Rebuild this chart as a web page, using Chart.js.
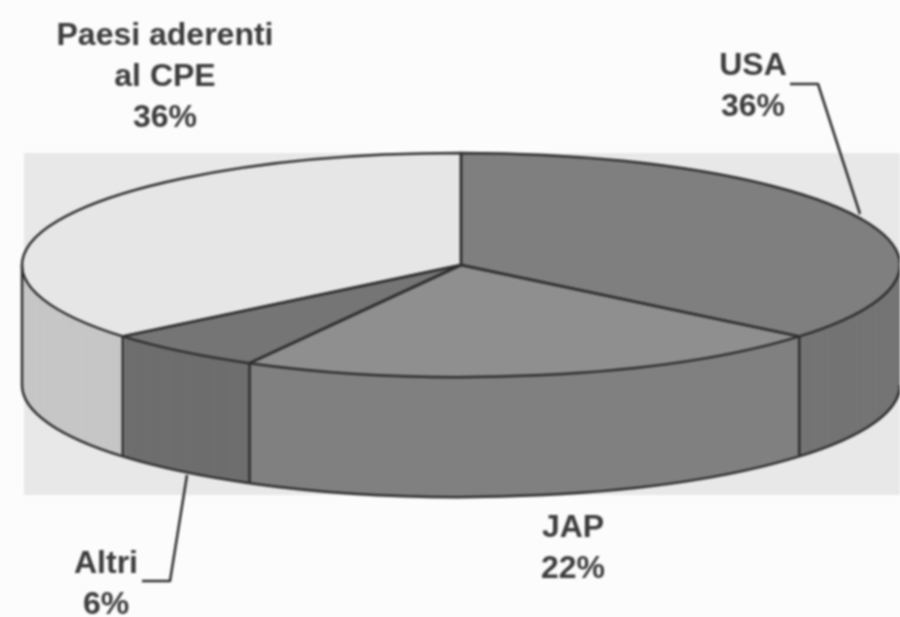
<!DOCTYPE html>
<html>
<head>
<meta charset="utf-8">
<style>
body { margin: 0; background: #fcfcfc; }
canvas { display: block; filter: blur(0.8px); }
</style>
<script src="https://cdn.jsdelivr.net/npm/chart.js@4"></script>
</head>
<body>
<canvas id="myChart" width="900" height="617"></canvas>
<script>
var categories = ['USA', 'JAP', 'Altri', 'Paesi aderenti al CPE'];
var shares = [36, 22, 6, 36];
var topColors = ['#7f7f7f', '#8f8f8f', '#757575', '#e6e6e6'];
var sideColors = ['#747474', '#808080', '#6e6e6e', '#c6c6c6'];

var RX = 439, RY = 112, DEPTH = 120;
var LINE = '#2e2e2e';

// squashes the round pie into the flat ellipse, dy moves it down for the wall
function squash(ctx, chart, arc, dy) {
    var a = chart.chartArea;
    ctx.translate(a.left + RX, a.top + RY + dy);
    ctx.scale(RX / arc.outerRadius, RY / arc.outerRadius);
    ctx.translate(-arc.x, -arc.y);
}

function slicePath(ctx, chart, arc, dy) {
    ctx.save();
    squash(ctx, chart, arc, dy);
    ctx.beginPath();
    ctx.moveTo(arc.x, arc.y);
    ctx.arc(arc.x, arc.y, arc.outerRadius, arc.startAngle, arc.endAngle);
    ctx.closePath();
    ctx.restore();
}

function rimPoint(chart, arc, angle, dy) {
    var a = chart.chartArea;
    return {
        x: a.left + RX + Math.cos(angle) * RX,
        y: a.top + RY + dy + Math.sin(angle) * RY
    };
}

function bandPattern(ctx) {
    var c = document.createElement('canvas');
    c.width = c.height = 4;
    var p = c.getContext('2d');
    p.fillStyle = '#eeeeee';
    p.fillRect(0, 0, 4, 4);
    p.fillStyle = '#e2e2e2';
    p.fillRect(0, 0, 2, 2);
    p.fillRect(2, 2, 2, 2);
    return ctx.createPattern(c, 'repeat');
}

var pie3d = {
    id: 'pie3d',
    beforeDatasetsDraw: function (chart) {
        var ctx = chart.ctx, a = chart.chartArea;
        var arcs = chart.getDatasetMeta(0).data;
        ctx.fillStyle = bandPattern(ctx);
        ctx.fillRect(a.left + 2, a.top, a.right - a.left - 2, a.bottom - a.top - 2);
        // wall: the slices stacked from the bottom up
        for (var d = DEPTH; d > 0; d--) {
            arcs.forEach(function (arc, i) {
                slicePath(ctx, chart, arc, d);
                ctx.fillStyle = sideColors[i];
                ctx.fill();
            });
        }
    },
    beforeDatasetDraw: function (chart) {
        var arc = chart.getDatasetMeta(0).data[0];
        chart.ctx.save();
        squash(chart.ctx, chart, arc, 0);
    },
    afterDatasetDraw: function (chart) {
        chart.ctx.restore();
    },
    afterDatasetsDraw: function (chart) {
        var ctx = chart.ctx;
        var arcs = chart.getDatasetMeta(0).data;
        ctx.strokeStyle = LINE;
        ctx.lineWidth = 2.5;
        ctx.lineJoin = 'round';
        // outlines of the top and of the wall bottom
        arcs.forEach(function (arc) {
            slicePath(ctx, chart, arc, 0);
            ctx.stroke();
            ctx.save();
            squash(ctx, chart, arc, DEPTH);
            ctx.beginPath();
            ctx.arc(arc.x, arc.y, arc.outerRadius,
                Math.max(arc.startAngle, 0), Math.min(arc.endAngle, Math.PI));
            ctx.restore();
            if (arc.endAngle > 0 && arc.startAngle < Math.PI) ctx.stroke();
            // wall seams, front half only
            if (arc.endAngle > 0 && arc.endAngle < Math.PI) {
                var p = rimPoint(chart, arc, arc.endAngle, 0);
                ctx.beginPath();
                ctx.moveTo(p.x, p.y);
                ctx.lineTo(p.x, p.y + DEPTH);
                ctx.stroke();
            }
        });
        var l = rimPoint(chart, arcs[0], Math.PI, 0);
        ctx.beginPath();
        ctx.moveTo(l.x, l.y);
        ctx.lineTo(l.x, l.y + DEPTH);
        ctx.stroke();

        // leader lines
        ctx.lineWidth = 2.5;
        ctx.beginPath();
        ctx.moveTo(790, 84);
        ctx.lineTo(818, 84);
        ctx.lineTo(860, 214);
        ctx.moveTo(142, 581);
        ctx.lineTo(170, 581);
        ctx.lineTo(187, 475);
        ctx.stroke();

        // labels
        ctx.fillStyle = '#3c3c3c';
        ctx.font = 'bold 32px "Liberation Sans", Arial, sans-serif';
        ctx.textAlign = 'center';
        ctx.textBaseline = 'alphabetic';
        function label(lines, x, y) {
            lines.forEach(function (t, i) {
                ctx.fillText(t, x, y + i * 41);
            });
        }
        label(['Paesi aderenti', 'al CPE', shares[3] + '%'], 165, 45);
        label([categories[0], shares[0] + '%'], 753, 75);
        label([categories[1], shares[1] + '%'], 573, 537);
        label([categories[2], shares[2] + '%'], 106, 573);
    }
};

var ctx = document.getElementById('myChart').getContext('2d');
var myChart = new Chart(ctx, {
    type: 'pie',
    data: {
        labels: categories,
        datasets: [{
            data: shares,
            backgroundColor: topColors,
            borderWidth: 0
        }]
    },
    options: {
        responsive: false,
        animation: false,
        layout: {
            padding: { left: 22, right: 0, top: 153, bottom: 120 }
        },
        plugins: {
            legend: { display: false },
            tooltip: { enabled: false }
        }
    },
    plugins: [pie3d]
});
</script>
</body>
</html>
